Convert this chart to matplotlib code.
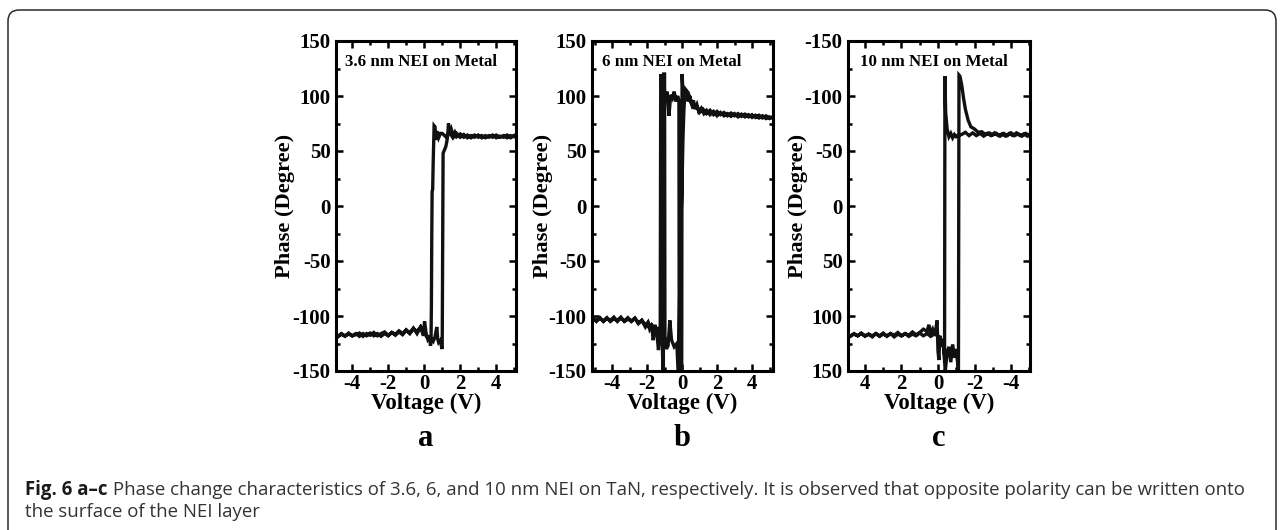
import matplotlib
matplotlib.use("Agg")
import matplotlib.pyplot as plt
from matplotlib.patches import FancyBboxPatch
from matplotlib.ticker import MultipleLocator
from matplotlib import font_manager

plt.rcParams['axes.unicode_minus'] = False

# ---------------- data ----------------
PANEL_LETTERS = ['a', 'b', 'c']
PANEL_TITLES = ['3.6 nm NEI on Metal', '6 nm NEI on Metal', '10 nm NEI on Metal']
X_TICKS = [-4, -2, 0, 2, 4]
Y_TICKS = [-150, -100, -50, 0, 50, 100, 150]

# panel a: forward sweep (V increasing) then reverse sweep (V decreasing)
A_V_FWD = [-5.0, -4.8, -4.6, -4.4, -4.2, -4.0, -3.8, -3.6, -3.4, -3.2, -3.0, -2.8, -2.6,
           -2.4, -2.2, -2.0, -1.8, -1.6, -1.4, -1.2, -1.0, -0.8, -0.6, -0.4, -0.2,
           0.0, 0.1, 0.2, 0.3, 0.4, 0.5, 0.6, 0.7, 0.75, 0.8, 0.9, 0.95, 1.0, 1.02, 1.05,
           1.1, 1.15, 1.2, 1.25, 1.3, 1.35, 1.4, 1.5, 1.6, 1.7, 1.8, 2.0, 2.2, 2.4, 2.6,
           2.8, 3.0, 3.2, 3.4, 3.6, 3.8, 4.0, 4.2, 4.4, 4.6, 4.8, 5.0]
A_P_FWD = [-116, -119, -116.5, -118.5, -115.5, -118, -117, -115.5, -118.5, -116, -117.5, -115,
           -118, -116, -114.5, -117.5, -115, -116.5, -113.5, -116, -112.5, -115.5, -111, -116,
           -110, -114, -118, -120, -122, -121, -123, -119, -110, -121, -124, -122, -127, -130,
           -60, 48, 50, 52, 54, 58, 63, 75, 66, 70, 64, 67, 63, 65.5, 62.5, 64.5, 62,
           64.5, 62.5, 64, 62, 64, 62.5, 64.5, 62.5, 64, 62, 64, 63]
A_V_REV = [5.0, 4.8, 4.6, 4.4, 4.2, 4.0, 3.8, 3.6, 3.4, 3.2, 3.0, 2.8, 2.6, 2.4, 2.2, 2.0,
           1.8, 1.6, 1.4, 1.2, 1.0, 0.9, 0.8, 0.7, 0.65, 0.6, 0.55, 0.5, 0.47, 0.44, 0.42,
           0.4, 0.38, 0.35, 0.3, 0.2, 0.1, 0.02, -0.05, -0.2, -0.4, -0.6, -0.8, -1.0, -1.2,
           -1.4, -1.6, -1.8, -2.0, -2.2, -2.4, -2.6, -2.8, -3.0, -3.2, -3.4, -3.6, -3.8,
           -4.0, -4.2, -4.4, -4.6, -4.8, -5.0]
A_P_REV = [64, 62, 64.5, 62.5, 63.5, 62, 64.5, 62.5, 64, 62, 64.5, 62.5, 64, 62, 65, 62.5,
           66, 62, 67, 63, 66, 66, 62, 68, 60, 72, 73, 40, 15, 13, -30,
           -90, -122, -127, -118, -121, -115, -105, -118, -110, -114, -111.5, -116, -113, -117,
           -114.5, -117.5, -115, -118, -116, -118.5, -116, -118, -115.5, -118, -116, -118.5, -116,
           -118, -116.5, -118, -116, -118.5, -117]

# panel b
B_V_FWD = [-5.1, -4.9, -4.7, -4.5, -4.3, -4.1, -3.9, -3.7, -3.5, -3.3, -3.1, -2.9, -2.7,
           -2.5, -2.3, -2.1, -1.95, -1.85, -1.75, -1.65, -1.55, -1.45, -1.35, -1.27, -1.25,
           -1.22, -1.15, -1.05, -0.95, -0.85, -0.75, -0.65, -0.55, -0.45, -0.35, -0.25, -0.18,
           -0.16, -0.02, 0.0, 0.05, 0.15, 0.25, 0.35, 0.45, 0.55, 0.65, 0.75, 0.85, 0.95, 1.1,
           1.25, 1.4, 1.6, 1.8, 2.0, 2.2, 2.4, 2.6, 2.8, 3.0, 3.2, 3.4, 3.6, 3.8, 4.0, 4.2,
           4.4, 4.6, 4.8, 5.0, 5.2]
B_P_FWD = [-101, -105, -102, -104.5, -101.5, -105, -102.5, -104, -101, -105, -103, -104.5, -102,
           -106, -104, -108, -106, -112, -107, -122, -110, -114, -131, -115, -120,
           120, 100, 108, 96, 104, 82, 101, 98, 104, 95, 100, 96,
           -160, -160, 120, 105, 98, 104, 95, 100, 92, 96, 88, 92, 86, 89,
           84, 87, 83, 86, 82, 85, 82, 84, 81.5, 84, 81, 83.5, 81, 83, 80.5, 82.5,
           80, 82, 79.5, 81, 80]
B_V_REV = [5.2, 5.0, 4.8, 4.6, 4.4, 4.2, 4.0, 3.8, 3.6, 3.4, 3.2, 3.0, 2.8, 2.6, 2.4, 2.2,
           2.0, 1.8, 1.6, 1.4, 1.2, 1.0, 0.8, 0.6, 0.45, 0.35, 0.2, 0.15, 0.1, 0.05, 0.0,
           -0.05, -0.08, -0.1, -0.12, -0.2, -0.3, -0.45, -0.6, -0.7, -0.8, -0.9, -0.98, -1.0,
           -1.05, -1.07, -1.15, -1.25, -1.35, -1.45, -1.55, -1.65, -1.75, -1.85, -1.95, -2.1,
           -2.3, -2.5, -2.7, -2.9, -3.1, -3.3, -3.5, -3.7, -3.9, -4.1, -4.3, -4.5, -4.7,
           -4.9, -5.1]
B_P_REV = [81, 79.5, 82, 80, 82.5, 80.5, 83, 81, 83.5, 81.5, 84, 82, 84.5, 82, 85, 83,
           86, 83, 87, 84, 88, 85, 92, 90, 98, 103, 106, 100, 85, 60, 20,
           -8, -12, -14, -60, -160, -125, -128, -122, -104, -127, -130, -118, 120,
           120, -160, -115, -126, -110, -118, -108, -114, -109, -112, -106, -110,
           -104, -107, -102, -105, -101.5, -104.5, -102, -105, -101, -104, -102, -105, -101.5,
           -104, -102]

# panel c (both axes reversed in the figure)
C_V_S1 = [5.0, 4.8, 4.6, 4.4, 4.2, 4.0, 3.8, 3.6, 3.4, 3.2, 3.0, 2.8, 2.6, 2.4, 2.2, 2.0,
          1.8, 1.6, 1.4, 1.2, 1.0, 0.8, 0.6, 0.5, 0.4, 0.3, 0.2, 0.1, 0.05, 0.0, -0.05, -0.1,
          -0.2, -0.3, -0.36, -0.38, -0.42, -0.5, -0.6, -0.7, -0.8, -0.9, -1.0, -1.1, -1.3,
          -1.5, -1.7, -1.9, -2.1, -2.3, -2.5, -2.7, -2.9, -3.1, -3.3, -3.5, -3.7, -3.9, -4.1,
          -4.3, -4.5, -4.7, -4.9, -5.0]
C_P_S1 = [116, 118.5, 116, 118, 115.5, 118, 116.5, 119, 116, 118, 115.5, 118.5, 116, 117.5,
          115, 118, 116, 117.5, 114.5, 117, 115, 112, 114, 108, 115, 112, 118, 110, 104, 132,
          140, 118, 125, 128, 135, -118, -85, -70, -63, -66, -62, -65, -63, -64, -65,
          -67, -64, -66.5, -64, -66, -63.5, -66, -64, -66.5, -64, -65.5, -63.5, -66, -64,
          -66.5, -64, -65.5, -63.5, -65]
C_V_S2 = [-5.0, -4.8, -4.6, -4.4, -4.2, -4.0, -3.8, -3.6, -3.4, -3.2, -3.0, -2.8, -2.6, -2.4,
          -2.2, -2.0, -1.8, -1.65, -1.5, -1.4, -1.3, -1.2, -1.15, -1.12, -1.0, -0.9, -0.8,
          -0.7, -0.6, -0.5, -0.4, -0.3, -0.2, -0.1, 0.0, 0.2, 0.4, 0.6, 0.8, 1.0, 1.2, 1.4,
          1.6, 1.8, 2.0, 2.2, 2.4, 2.6, 2.8, 3.0, 3.2, 3.4, 3.6, 3.8, 4.0, 4.2, 4.4, 4.6,
          4.8, 5.0]
C_P_S2 = [-64, -66, -63.5, -65.5, -64, -66.5, -64, -66, -63.5, -66, -64.5, -66.5, -65, -67.5,
          -67, -70, -72, -78, -88, -98, -110, -118, -119, 150, 130, 138, 126,
          142, 128, 133, 150, 128, 122, 120, 118, 116, 118.5, 116, 118, 115.5, 118, 116.5,
          118.5, 116, 118, 116.5, 119, 116, 118, 116.5, 118.5, 116, 118, 116.5, 118.5, 116,
          118, 116.5, 118, 117]

CAPTION_BOLD = 'Fig. 6 a\u2013c'
CAPTION_LINE1 = (' Phase change characteristics of 3.6, 6, and 10 nm NEI on TaN, respectively. '
                 'It is observed that opposite polarity can be written onto')
CAPTION_LINE2 = 'the surface of the NEI layer'

# ---------------- figure ----------------
W, H = 1284, 530
fig = plt.figure(figsize=(W / 100, H / 100), dpi=100)
fig.patch.set_facecolor('white')

SERIF = ['Liberation Serif', 'DejaVu Serif']

def has_font(name):
    try:
        font_manager.findfont(font_manager.FontProperties(family=name), fallback_to_default=False)
        return True
    except Exception:
        return False

CAP_FONT = 'Liberation Sans Narrow' if has_font('Liberation Sans Narrow') else 'Open Sans'

# background overlay in pixel coordinates for the rounded frame
bg = fig.add_axes([0, 0, 1, 1], zorder=-5)
bg.set_xlim(0, W)
bg.set_ylim(H, 0)
bg.axis('off')
frame = FancyBboxPatch((8, 10), 1268, 540, boxstyle='round,pad=0,rounding_size=11',
                       fc='none', ec='#2b2b2b', lw=1.1)
bg.add_patch(frame)

# axes rectangles in pixels: (left, top, right, bottom)
rects = [(336, 41, 516, 371), (592, 41, 773, 371), (848, 41, 1030, 371)]
xlims = [(-4.9, 5.1), (-5.15, 5.2), (4.93, -5.04)]
ylims = [(-150, 150), (-150, 150), (150, -150)]
series = [
    (A_V_FWD + A_V_REV, A_P_FWD + A_P_REV),
    (B_V_FWD + B_V_REV, B_P_FWD + B_P_REV),
    (C_V_S1 + C_V_S2, C_P_S1 + C_P_S2),
]
ylabel_x = [285, 543, 798]
title_dx = [9, 10, 12]

for i, (l, t, r, b) in enumerate(rects):
    ax = fig.add_axes([l / W, (H - b) / H, (r - l) / W, (b - t) / H])
    v, p = series[i]
    ax.plot(v, p, color='#111111', lw=2.4, solid_joinstyle='miter')
    ax.set_xlim(*xlims[i])
    ax.set_ylim(*ylims[i])
    ax.set_xticks(X_TICKS)
    ax.set_yticks(Y_TICKS)
    ax.xaxis.set_minor_locator(MultipleLocator(1))
    ax.yaxis.set_minor_locator(MultipleLocator(25))
    ax.tick_params(which='both', direction='in', top=True, right=True, width=1.8,
                   labelsize=15)
    ax.tick_params(axis='x', pad=2.5)
    ax.tick_params(axis='y', pad=4)
    ax.tick_params(which='major', length=5)
    ax.tick_params(which='minor', length=3)
    for lab in ax.get_xticklabels() + ax.get_yticklabels():
        lab.set_fontfamily(SERIF)
        lab.set_fontweight('bold')
    for sp in ax.spines.values():
        sp.set_linewidth(2.2)
    ax.set_xlabel('Voltage (V)', fontsize=16.5, fontweight='bold', family=SERIF, va='center')
    ax.xaxis.set_label_coords(0.5, (b - 403) / (b - t))
    ax.set_ylabel('Phase (Degree)', fontsize=16.2, fontweight='bold', family=SERIF, va='center')
    ax.yaxis.set_label_coords((ylabel_x[i] - l) / (r - l), 0.5)
    ax.text(title_dx[i] / (r - l), (b - 62) / (b - t), PANEL_TITLES[i], transform=ax.transAxes,
            fontsize=12.2, fontweight='bold', family=SERIF, va='center', ha='left')
    fig.text(((l + r) / 2) / W, (H - 438) / H, PANEL_LETTERS[i], fontsize=22,
             fontweight='bold', family=SERIF, ha='center', va='center')

# caption
renderer = fig.canvas.get_renderer()
cap_size = 12.5
t_bold = fig.text(25 / W, (H - 495) / H, CAPTION_BOLD, fontsize=cap_size, fontweight='bold',
                  family=CAP_FONT, color='#1a1a1a', va='baseline', ha='left')
t_rest = fig.text(0, (H - 495) / H, CAPTION_LINE1, fontsize=cap_size,
                  family=CAP_FONT, color='#333333', va='baseline', ha='left')
# fit first caption line to span x = 25 .. 1246 px
for _ in range(3):
    bb = t_bold.get_window_extent(renderer)
    t_rest.set_x(bb.x1 / W)
    br = t_rest.get_window_extent(renderer)
    total = br.x1 - 25
    cap_size = cap_size * 1221 / total
    t_bold.set_fontsize(cap_size)
    t_rest.set_fontsize(cap_size)
bb = t_bold.get_window_extent(renderer)
t_rest.set_x(bb.x1 / W)
fig.text(25 / W, (H - 517) / H, CAPTION_LINE2, fontsize=cap_size, family=CAP_FONT,
         color='#333333', va='baseline', ha='left')

fig.savefig('out.png', dpi=100, facecolor='white')
